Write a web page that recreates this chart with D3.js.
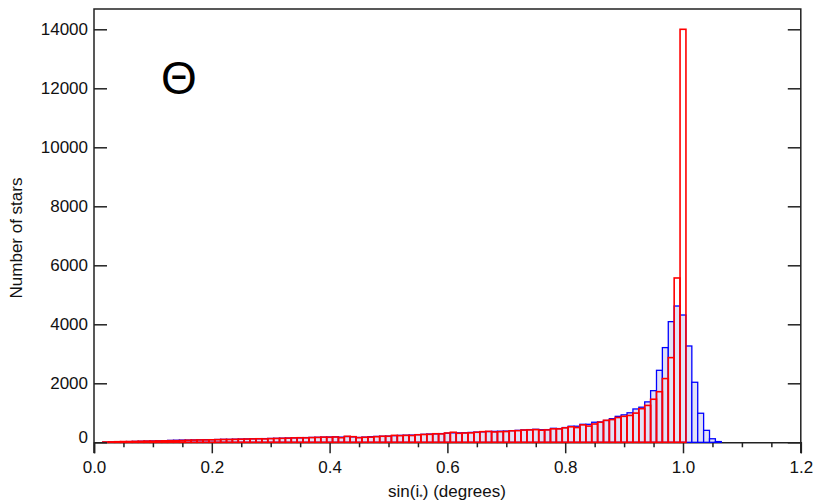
<!DOCTYPE html>
<html>
<head>
<meta charset="utf-8">
<script src="https://cdn.jsdelivr.net/npm/d3@7"></script>
<style>
  html, body { margin: 0; padding: 0; background: #fff; }
  svg { display: block; font-family: "Liberation Sans", Arial, Helvetica, sans-serif; }
</style>
</head>
<body>
<svg id="chart" width="817" height="503"></svg>
<script>
// Bin centres of the sin(i*) histogram (bin width 0.01)
const binWidth = 0.01;
const binCenters = [
  0.02,0.03,0.04,0.05,0.06,0.07,0.08,0.09,0.10,0.11,0.12,0.13,0.14,0.15,0.16,0.17,0.18,0.19,0.20,
  0.21,0.22,0.23,0.24,0.25,0.26,0.27,0.28,0.29,0.30,0.31,0.32,0.33,0.34,0.35,0.36,0.37,0.38,0.39,0.40,
  0.41,0.42,0.43,0.44,0.45,0.46,0.47,0.48,0.49,0.50,0.51,0.52,0.53,0.54,0.55,0.56,0.57,0.58,0.59,0.60,
  0.61,0.62,0.63,0.64,0.65,0.66,0.67,0.68,0.69,0.70,0.71,0.72,0.73,0.74,0.75,0.76,0.77,0.78,0.79,0.80,
  0.81,0.82,0.83,0.84,0.85,0.86,0.87,0.88,0.89,0.90,0.91,0.92,0.93,0.94,0.95,0.96,0.97,0.98,0.99,1.00,
  1.01,1.02,1.03,1.04,1.05,1.06
];

// Blue (filled) histogram: star counts per bin, 0.02 ... 1.06
const blueCounts = [
  5,10,15,20,25,30,35,40,45,50,55,65,70,75,75,80,85,90,90,
  95,100,100,105,110,115,120,120,125,130,135,140,145,150,150,160,165,170,175,180,
  185,175,195,185,165,175,190,200,205,210,225,235,240,245,260,270,280,285,295,310,
  320,320,325,335,345,355,365,370,375,380,395,405,420,430,440,427,430,474,465,500,
  545,545,610,610,680,690,740,800,880,930,1000,1130,1190,1370,1750,2440,3210,4090,4620,4315,
  3265,2035,985,405,120,25
];

// Red (outline) histogram: star counts per bin, 0.02 ... 1.00
const redCounts = [
  10,15,20,25,25,30,35,40,40,45,50,55,55,60,70,75,80,80,85,
  90,95,95,100,105,110,115,120,115,125,130,135,140,150,155,150,160,165,175,170,
  180,156,203,190,156,170,175,190,205,205,235,225,235,230,255,265,270,290,285,315,
  340,305,315,320,340,360,370,350,360,365,390,395,415,420,430,410,420,455,455,490,
  525,500,590,550,620,680,745,770,840,880,910,990,1140,1250,1460,1715,2160,2870,5570,14000
];

// Axis ticks
const xMajorTicks = [0.0, 0.2, 0.4, 0.6, 0.8, 1.0, 1.2];
const xMinorTicks = [0.05,0.1,0.15,0.25,0.3,0.35,0.45,0.5,0.55,0.65,0.7,0.75,0.85,0.9,0.95,1.05,1.1,1.15];
const yTicks = [0, 2000, 4000, 6000, 8000, 10000, 12000, 14000];

const svg = d3.select("#chart");

const frame = { left: 94, right: 800.8, top: 9, bottom: 453 };
const x = d3.scaleLinear().domain([0, 1.2]).range([frame.left, frame.right]);
const y = d3.scaleLinear().domain([0, 14000]).range([442.3, 29.3]);

const axisColor = "#222";
const fontSize = 17;

// x axis at zero counts (drawn below the bars)
const xAxisG = svg.append("g").attr("transform", `translate(0,${y(0)})`);
xAxisG.call(d3.axisBottom(x).tickValues(xMajorTicks).tickSize(11).tickPadding(8)
  .tickFormat(d3.format(".1f")));
xAxisG.append("g").call(d3.axisBottom(x).tickValues(xMinorTicks).tickSize(5).tickFormat(""))
  .select(".domain").remove();
xAxisG.selectAll(".domain").attr("stroke", axisColor).attr("stroke-width", 1.5);
xAxisG.selectAll(".tick line").attr("stroke", axisColor).attr("stroke-width", 1.5);
xAxisG.selectAll(".tick text").attr("font-size", fontSize).attr("fill", "#111")
  .attr("font-family", "Liberation Sans, Arial, sans-serif");

// Blue histogram: light lavender fill with blue outline
const blueData = binCenters.map((c, i) => ({ c, v: blueCounts[i] }));
svg.append("g").selectAll("rect").data(blueData).join("rect")
  .attr("x", d => x(d.c - binWidth / 2))
  .attr("width", d => x(d.c + binWidth / 2) - x(d.c - binWidth / 2))
  .attr("y", d => y(d.v))
  .attr("height", d => y(0) - y(d.v))
  .attr("fill", "#e2e2f6")
  .attr("stroke", "#0000ff")
  .attr("stroke-width", 1.3);

// Red histogram: outline only, drawn on top
const redData = redCounts.map((v, i) => ({ c: binCenters[i], v }));
svg.append("g").selectAll("rect").data(redData).join("rect")
  .attr("x", d => x(d.c - binWidth / 2))
  .attr("width", d => x(d.c + binWidth / 2) - x(d.c - binWidth / 2))
  .attr("y", d => y(d.v))
  .attr("height", d => y(0) - y(d.v))
  .attr("fill", "none")
  .attr("stroke", "#ff0000")
  .attr("stroke-width", 1.6);

// Left axis with inward ticks and labels
const yAxisG = svg.append("g").attr("transform", `translate(${frame.left},0)`);
yAxisG.call(d3.axisLeft(y).tickValues(yTicks).tickSize(-13).tickPadding(6).tickFormat(d3.format("d")));
yAxisG.select(".domain").remove();
yAxisG.selectAll(".tick line").attr("stroke", axisColor).attr("stroke-width", 1.5);
yAxisG.selectAll(".tick text").attr("font-size", fontSize).attr("fill", "#111")
  .attr("font-family", "Liberation Sans, Arial, sans-serif")
  .attr("dy", d => d === 0 ? "-0.0em" : "0.32em");

// Right axis: ticks only
const yAxisR = svg.append("g").attr("transform", `translate(${frame.right},0)`);
yAxisR.call(d3.axisRight(y).tickValues(yTicks).tickSize(-13).tickFormat(""));
yAxisR.select(".domain").remove();
yAxisR.selectAll(".tick line").attr("stroke", axisColor).attr("stroke-width", 1.5);

// Frame: left, right and top edges
const framePath = d3.path();
framePath.moveTo(frame.left, frame.bottom);
framePath.lineTo(frame.left, frame.top);
framePath.lineTo(frame.right, frame.top);
framePath.lineTo(frame.right, frame.bottom);
svg.append("path").attr("d", framePath.toString())
  .attr("fill", "none").attr("stroke", axisColor).attr("stroke-width", 1.5);

// Axis titles
svg.append("text")
  .attr("transform", `translate(22,${(frame.top + frame.bottom) / 2 + 7}) rotate(-90)`)
  .attr("text-anchor", "middle")
  .attr("font-size", fontSize)
  .attr("fill", "#111")
  .text("Number of stars");

const xTitle = svg.append("text")
  .attr("x", 447)
  .attr("y", 497)
  .attr("text-anchor", "middle")
  .attr("font-size", fontSize)
  .attr("fill", "#111");
xTitle.append("tspan").text("sin(i");
xTitle.append("tspan").attr("font-size", 9).attr("dy", 3).text("*");
xTitle.append("tspan").attr("dy", -3).text(") (degrees)");

// Panel symbol
svg.append("text")
  .attr("x", 179)
  .attr("y", 94)
  .attr("text-anchor", "middle")
  .attr("font-size", 46)
  .attr("fill", "#000")
  .text("Θ");
</script>
</body>
</html>
